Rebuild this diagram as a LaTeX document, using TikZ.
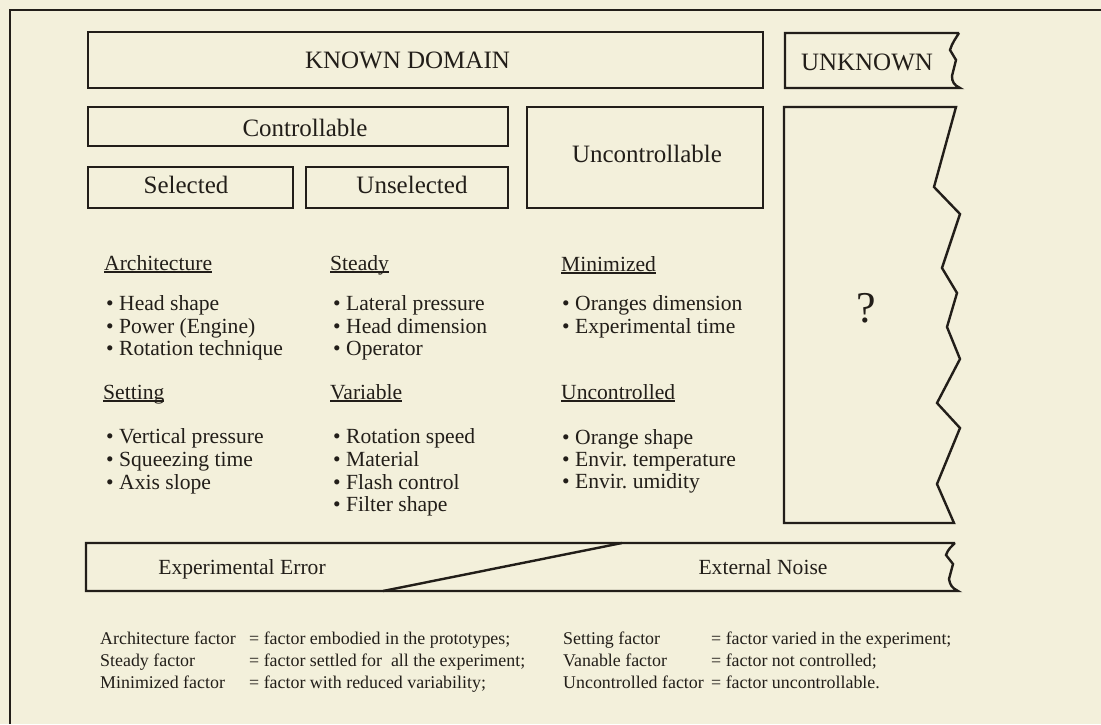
\documentclass[tikz,border=0pt]{standalone}
\usepackage{fontspec}
\setmainfont{Liberation Serif}
\frenchspacing
\definecolor{paper}{HTML}{F3F0DB}
\definecolor{ink}{HTML}{221E19}
\newcommand\headul[1]{\setbox0\hbox{#1}\rlap{\rule[-2.6pt]{\wd0}{1.3pt}}\box0}
\tikzset{
  boxline/.style={draw=ink, line width=2.4pt, line join=miter},
  framebox/.style={draw=ink, line width=2pt},
  emptybox/.style={boxline, rectangle, inner sep=0pt, outer sep=0pt},
  boxlabel/.style={text=ink, inner sep=0pt, anchor=base, font=\fontsize{25}{29}\selectfont},
  itemtext/.style={text=ink, inner sep=0pt, anchor=base west, font=\fontsize{21.6}{25}\selectfont},
  legendtext/.style={text=ink, inner sep=0pt, anchor=base west, font=\fontsize{17.9}{21}\selectfont},
}
\begin{document}
\begin{tikzpicture}[x=1pt,y=-1pt]
\useasboundingbox (0,0) rectangle (1101,724);
\fill[paper] (0,0) rectangle (1101,724);
% outer frame
\coordinate (frameR) at (1101,10);
\coordinate (frameC) at (10,10);
\coordinate (frameB) at (10,724);
\draw[framebox] (frameR) -- (frameC) -- (frameB);

% top row
\node[emptybox, minimum width=675pt, minimum height=56pt] (known) at (425.5,60) {};
\node[boxlabel] (knownt) at (407.5,68) {KNOWN DOMAIN};
\coordinate (unkTR) at (959,33);
\coordinate (unkTL) at (785,33);
\coordinate (unkBL) at (785,88);
\coordinate (unkBR) at (960,88);
\draw[boxline] (unkTR) -- (unkTL) -- (unkBL) -- (unkBR)
  .. controls (954,85) and (952,82) .. (952,76)
  -- (956,60) -- (950,50)
  .. controls (952,43) and (956,38) .. (unkTR);
\node[boxlabel] (unkt) at (867,70) {UNKNOWN};

% second row
\node[emptybox, minimum width=420pt, minimum height=39pt] (ctrl) at (298,126.5) {};
\node[boxlabel] (ctrlt) at (305,136.5) {Controllable};
\node[emptybox, minimum width=236pt, minimum height=101pt] (unctrl) at (645,157.5) {};
\node[boxlabel] (unctrlt) at (647,162) {Uncontrollable};
\node[emptybox, minimum width=205pt, minimum height=41pt] (sel) at (190.5,187.5) {};
\node[boxlabel] (selt) at (186,193) {Selected};
\node[emptybox, minimum width=202pt, minimum height=41pt] (unsel) at (407,187.5) {};
\node[boxlabel] (unselt) at (412,193) {Unselected};

% tall unknown box
\coordinate (tallTR) at (956,107);
\coordinate (tallTL) at (784,107);
\coordinate (tallBL) at (784,523);
\coordinate (tallBR) at (954,523);
\draw[boxline] (tallTR) -- (tallTL) -- (tallBL) -- (tallBR)
  -- (937,484) -- (960,428) -- (937,403) -- (960,359) -- (947,327)
  -- (957,293) -- (942,268) -- (960,214) -- (934,187) -- cycle;
\node[text=ink, inner sep=0pt, anchor=base, font=\fontsize{44}{48}\selectfont] (qmark) at (866,322) {?};

% column 1
\node[itemtext] (archh) at (104,270) {\headul{Architecture}};
\node[itemtext] (arch1) at (106,310) {\textbullet\ Head shape};
\node[itemtext] (arch2) at (106,333) {\textbullet\ Power (Engine)};
\node[itemtext] (arch3) at (106,355) {\textbullet\ Rotation technique};
\node[itemtext] (seth) at (103,399) {\headul{Setting}};
\node[itemtext] (set1) at (106,443) {\textbullet\ Vertical pressure};
\node[itemtext] (set2) at (106,466) {\textbullet\ Squeezing time};
\node[itemtext] (set3) at (106,489) {\textbullet\ Axis slope};
% column 2
\node[itemtext] (steh) at (330,270) {\headul{Steady}};
\node[itemtext] (ste1) at (333,310) {\textbullet\ Lateral pressure};
\node[itemtext] (ste2) at (333,333) {\textbullet\ Head dimension};
\node[itemtext] (ste3) at (333,355) {\textbullet\ Operator};
\node[itemtext] (varh) at (330,399) {\headul{Variable}};
\node[itemtext] (var1) at (333,443) {\textbullet\ Rotation speed};
\node[itemtext] (var2) at (333,466) {\textbullet\ Material};
\node[itemtext] (var3) at (333,489) {\textbullet\ Flash control};
\node[itemtext] (var4) at (333,511) {\textbullet\ Filter shape};
% column 3
\node[itemtext] (minh) at (561,271) {\headul{Minimized}};
\node[itemtext] (min1) at (562,310) {\textbullet\ Oranges dimension};
\node[itemtext] (min2) at (562,333) {\textbullet\ Experimental time};
\node[itemtext] (unch) at (561,399) {\headul{Uncontrolled}};
\node[itemtext] (unc1) at (562,444) {\textbullet\ Orange shape};
\node[itemtext] (unc2) at (562,466) {\textbullet\ Envir.\ temperature};
\node[itemtext] (unc3) at (562,488) {\textbullet\ Envir.\ umidity};

% bottom band
\coordinate (bandTR) at (955,543);
\coordinate (bandTL) at (86,543);
\coordinate (bandBL) at (86,591);
\coordinate (bandBR) at (958,591);
\draw[boxline] (bandTR) -- (bandTL) -- (bandBL) -- (bandBR)
  .. controls (952,588) and (950,585) .. (949,579)
  -- (953,564) -- (946,555)
  .. controls (948,549) and (952,546) .. (bandTR);
\coordinate (divB) at (383,591);
\coordinate (divT) at (622,543);
\draw[boxline] (divB) -- (divT);
\node[itemtext, anchor=base] (experr) at (242,574) {Experimental Error};
\node[itemtext, anchor=base] (extnoise) at (763,574) {External Noise};

% legend
\node[legendtext] (l11) at (100,644) {Architecture factor};
\node[legendtext] (l12) at (249,644) {= factor embodied in the prototypes;};
\node[legendtext] (l13) at (563,644) {Setting factor};
\node[legendtext] (l14) at (711,644) {= factor varied in the experiment;};
\node[legendtext] (l21) at (100,666) {Steady factor};
\node[legendtext] (l22) at (249,666) {= factor settled for\ \ all the experiment;};
\node[legendtext] (l23) at (563,666) {Vanable factor};
\node[legendtext] (l24) at (711,666) {= factor not controlled;};
\node[legendtext] (l31) at (100,688) {Minimized factor};
\node[legendtext] (l32) at (249,688) {= factor with reduced variability;};
\node[legendtext] (l33) at (563,688) {Uncontrolled factor};
\node[legendtext] (l34) at (711,688) {= factor uncontrollable.};
\end{tikzpicture}
\end{document}
